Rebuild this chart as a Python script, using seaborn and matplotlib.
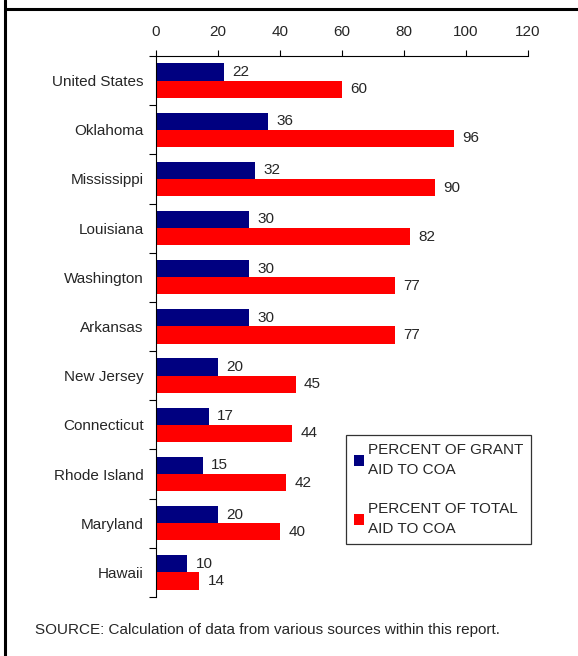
import numpy as np
import pandas as pd
import matplotlib
matplotlib.use("Agg")
import matplotlib.pyplot as plt
from matplotlib.lines import Line2D
import seaborn as sns

states = ["United States", "Oklahoma", "Mississippi", "Louisiana", "Washington",
          "Arkansas", "New Jersey", "Connecticut", "Rhode Island", "Maryland", "Hawaii"]
grant_pct = [22, 36, 32, 30, 30, 30, 20, 17, 15, 20, 10]
total_pct = [60, 96, 90, 82, 77, 77, 45, 44, 42, 40, 14]
series_names = ["PERCENT OF GRANT\nAID TO COA", "PERCENT OF TOTAL\nAID TO COA"]
x_ticks = [0, 20, 40, 60, 80, 100, 120]
source_note = "SOURCE: Calculation of data from various sources within this report."

df = pd.DataFrame({
    "state": states * 2,
    "value": grant_pct + total_pct,
    "series": [series_names[0]] * len(states) + [series_names[1]] * len(states),
})

sns.set_theme(style="white")
plt.rcParams["font.family"] = ["Liberation Sans", "DejaVu Sans"]

fig = plt.figure(figsize=(5.78, 6.56), dpi=100)
ax = fig.add_axes([0.270, 0.090, 0.6435, 0.8247])

sns.barplot(data=df, y="state", x="value", hue="series", orient="h",
            palette=["#000080", "#FF0000"], width=0.70, saturation=1,
            linewidth=0, ax=ax, order=states, hue_order=series_names)

ax.set_xlim(0, 120)
ax.set_ylim(len(states) - 0.5, -0.5)
ax.set_xticks(x_ticks)
ax.xaxis.tick_top()
ax.tick_params(axis="x", which="major", direction="out", length=4, width=0.8,
               color="black", labelsize=11, pad=8, top=True, bottom=False)
ax.tick_params(axis="y", which="major", length=0, labelsize=11, pad=9)
ax.set_yticks(np.arange(-0.5, len(states), 1.0), minor=True)
ax.tick_params(axis="y", which="minor", direction="out", length=5, width=0.8,
               color="black", left=True)
ax.set_xlabel("")
ax.set_ylabel("")
for side in ["right", "bottom"]:
    ax.spines[side].set_visible(False)
for side in ["top", "left"]:
    ax.spines[side].set_color("black")
    ax.spines[side].set_linewidth(0.8)

for container in ax.containers:
    ax.bar_label(container, fmt="%g", padding=6, fontsize=11)

handles, labels = ax.get_legend_handles_labels()
leg = ax.legend(handles, labels, loc="upper left", bbox_to_anchor=(0.511, 0.299),
                frameon=True, fancybox=False, edgecolor="black", fontsize=11,
                handlelength=0.7, handleheight=0.7, handletextpad=0.2,
                labelspacing=1.6, borderpad=0.5, borderaxespad=0)
leg.get_frame().set_linewidth(0.9)
for txt in leg.get_texts():
    txt.set_linespacing(1.6)

fig.text(35 / 578, 1 - 630 / 656, source_note, fontsize=11, va="center", ha="left")

fig.add_artist(Line2D([5 / 578, 5 / 578], [0, 1], color="black", linewidth=2.2,
                      transform=fig.transFigure))
fig.add_artist(Line2D([5 / 578, 1], [1 - 8.5 / 656, 1 - 8.5 / 656], color="black",
                      linewidth=2.2, transform=fig.transFigure))

fig.savefig("out.png", dpi=100)
